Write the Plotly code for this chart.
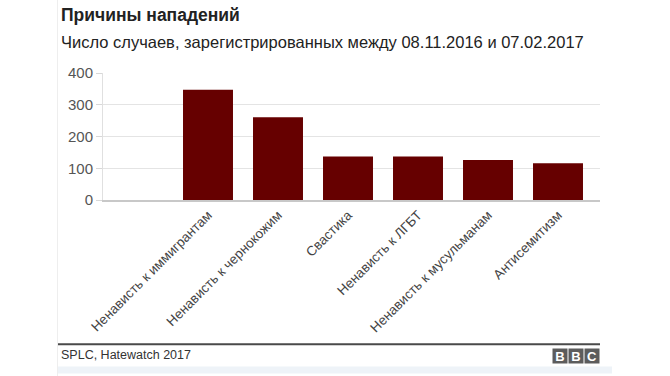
import plotly.graph_objects as go

categories = ["Ненависть к иммигрантам", "Ненависть к чернокожим", "Свастика",
              "Ненависть к ЛГБТ", "Ненависть к мусульманам", "Антисемитизм"]
counts = [347, 261, 137, 137, 126, 116]
y_ticks = [0, 100, 200, 300, 400]

title = "Причины нападений"
subtitle = "Число случаев, зарегистрированных между 08.11.2016 и 07.02.2017"
source = "SPLC, Hatewatch 2017"

W, H = 670, 376
L, R, T, B = 103, 600, 73.3, 200


def px(x):
    return (x - L) / (R - L)


def py(y):
    return (B - y) / (B - T)


FONT = "Liberation Sans, Arial, sans-serif"

fig = go.Figure(go.Bar(x=categories, y=counts, marker_color="#660000",
                       marker_line_width=0, width=0.714))

fig.update_layout(
    width=W, height=H,
    margin=dict(l=L, r=W - R, t=T, b=H - B, pad=0),
    paper_bgcolor="white", plot_bgcolor="white",
    showlegend=False,
    font=dict(family=FONT, color="#444"),
    bargap=0.3,
)
fig.update_xaxes(range=[-1.5, 5.6], tickangle=-45, showgrid=False,
                 showline=True, linecolor="#c8c8c8", linewidth=2,
                 ticks="", tickfont=dict(size=13.5, color="#444", family=FONT))
fig.update_yaxes(range=[0, 400], tickvals=y_ticks, showgrid=True,
                 gridcolor="#e4e4e4", gridwidth=1, zeroline=False,
                 showline=True, linecolor="#e0e0e0", linewidth=1,
                 ticks="outside", ticklen=6, tickcolor="#d8d8d8",
                 tickfont=dict(size=15, color="#555", family=FONT))

shapes = [
    # cover bottom of rotated labels (cropped like the original)
    dict(type="rect", xref="paper", yref="paper", x0=px(60), x1=px(612),
         y0=py(344), y1=py(337.5), fillcolor="white", line_width=0, layer="above"),
    # footer rule
    dict(type="line", xref="paper", yref="paper", x0=px(58), x1=px(600),
         y0=py(344), y1=py(344), line=dict(color="#4a4a4a", width=2), layer="above"),
    # light strip at bottom
    dict(type="rect", xref="paper", yref="paper", x0=px(58), x1=px(612),
         y0=py(373), y1=py(366), fillcolor="#eef3f8", line_width=0, layer="above"),
    # faint left border
    dict(type="line", xref="paper", yref="paper", x0=px(57.5), x1=px(57.5),
         y0=py(0), y1=py(376), line=dict(color="#eeeeee", width=1), layer="above"),
]

annotations = [
    dict(text="<b>" + title + "</b>", xref="paper", yref="paper", x=px(59), y=py(15),
         xanchor="left", yanchor="middle", showarrow=False,
         font=dict(size=17.5, color="#222", family=FONT)),
    dict(text=subtitle, xref="paper", yref="paper", x=px(59), y=py(42),
         xanchor="left", yanchor="middle", showarrow=False,
         font=dict(size=16.5, color="#222", family=FONT)),
    dict(text=source, xref="paper", yref="paper", x=px(59), y=py(355),
         xanchor="left", yanchor="middle", showarrow=False,
         font=dict(size=12.5, color="#333", family=FONT)),
]
for i, letter in enumerate("BBC"):
    annotations.append(dict(
        text="<b>" + letter + "</b>", xref="paper", yref="paper",
        x=px(560 + 16 * i), y=py(355.5), xanchor="center", yanchor="middle",
        showarrow=False, bgcolor="#5c5c5c", width=14, height=14, borderpad=0,
        font=dict(size=13, color="white", family=FONT)))

fig.update_layout(shapes=shapes, annotations=annotations)
fig.write_html("out.html", config={"displayModeBar": False},
               post_script="document.body.style.margin='0';document.body.style.overflow='hidden';")
